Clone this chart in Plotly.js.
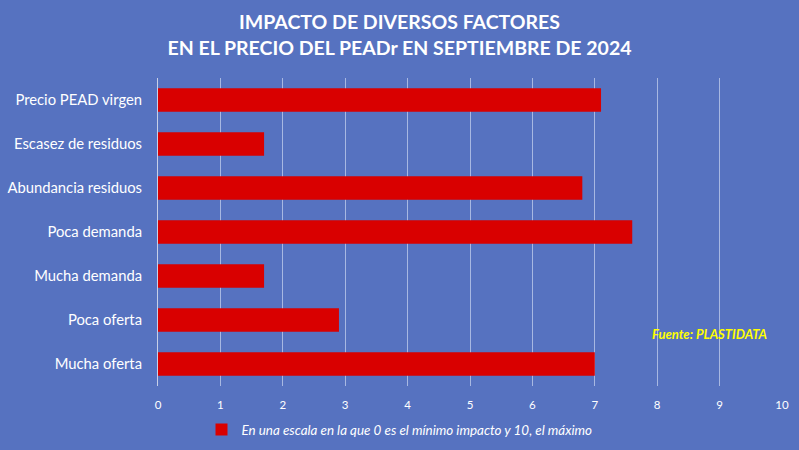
<!DOCTYPE html>
<html><head><meta charset="utf-8">
<script src="https://cdn.plot.ly/plotly-3.0.1.min.js"></script>
<style>html,body{margin:0;padding:0;background:#5672C0;}</style>
</head><body>
<div id="chart" style="width:799px;height:450px;"></div>
<script>
const categories = ["Precio PEAD virgen","Escasez de residuos","Abundancia residuos","Poca demanda","Mucha demanda","Poca oferta","Mucha oferta"];
const values = [7.1, 1.7, 6.8, 7.6, 1.7, 2.9, 7.0];
const seriesName = "En una escala en la que 0 es el mínimo impacto y 10, el máximo";
const xTicks = [0,1,2,3,4,5,6,7,8,9,10];

const font = "Lato, 'Open Sans', sans-serif";
const trace = {
  type: "bar", orientation: "h",
  y: categories, x: values, name: seriesName,
  marker: {color: "#D90000"}, width: 0.53,
  hoverinfo: "x+y"
};
const layout = {
  width: 799, height: 450,
  paper_bgcolor: "#5672C0", plot_bgcolor: "#5672C0",
  margin: {l: 158, r: 17, t: 78, b: 64, autoexpand: false},
  title: {text: "<b>IMPACTO DE DIVERSOS FACTORES<br>EN EL PRECIO DEL PEADr EN SEPTIEMBRE DE 2024</b>",
    font: {family: font, size: 19.5, color: "#FFFFFF"}, x: 0.5, xanchor: "center",
    yref: "container", y: 0.935, yanchor: "top"},
  xaxis: {range: [0, 10], tickvals: xTicks, ticktext: xTicks.map(String),
    showgrid: true, gridcolor: "#A8B8E2", gridwidth: 1, zeroline: false,
    tickfont: {family: font, size: 11.5, color: "#FFFFFF"}, ticks: "", ticklen: 0,
    ticklabelstandoff: 10, fixedrange: true},
  yaxis: {autorange: "reversed", showline: true, linecolor: "#C8D0E8", linewidth: 1,
    tickfont: {family: font, size: 14.8, color: "#FFFFFF"}, ticks: "", ticklen: 0,
    ticklabelstandoff: 12, showgrid: false, zeroline: false, fixedrange: true},
  showlegend: true,
  legend: {orientation: "h", x: 0.5, xanchor: "center", xref: "container",
    yref: "container", y: 0.045, yanchor: "middle",
    font: {family: font, size: 13.4, color: "#FFFFFF", style: "italic"},
    bgcolor: "rgba(0,0,0,0)", itemwidth: 30},
  annotations: [{text: "<b><i>Fuente: PLASTIDATA</i></b>", xref: "paper", yref: "paper",
    x: 0.788, y: 0.17, xanchor: "left", yanchor: "middle", showarrow: false,
    font: {family: font, size: 13, color: "#FFFF00"}}]
};
Plotly.newPlot("chart", [trace], layout, {displayModeBar: false, staticPlot: true});
</script>
</body></html>
